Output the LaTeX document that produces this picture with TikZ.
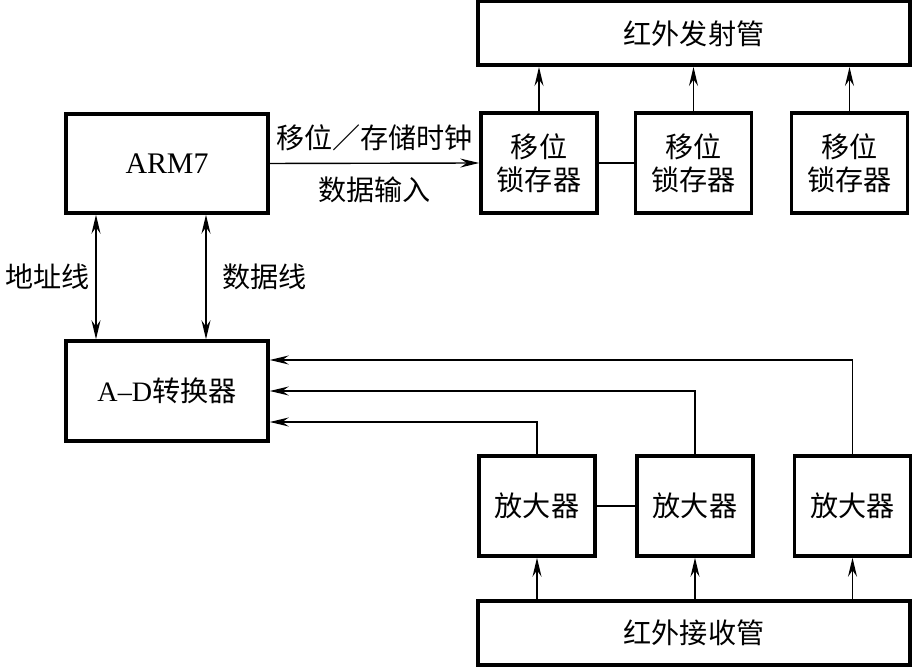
\documentclass[tikz,border=0pt]{standalone}
\usepackage{fontspec}
\setmainfont{Liberation Serif}
\newfontfamily\cjk{Noto Sans CJK SC}
\usepackage{tikz}
\usetikzlibrary{arrows.meta,positioning,calc}
\tikzstyle{arrow} = [line width=0.8pt,-{Stealth[length=3.8mm,width=1.8mm,inset=1.3mm]}]
\tikzstyle{biarrow} = [line width=0.8pt,{Stealth[length=3.8mm,width=1.8mm,inset=1.3mm]}-{Stealth[length=3.8mm,width=1.8mm,inset=1.3mm]}]
\tikzstyle{link} = [line width=0.8pt]
\tikzstyle{blockbox} = [rectangle, draw=black, line width=2pt, text centered, align=center, font=\fontsize{16}{18.5}\selectfont\cjk]
\tikzstyle{smallbox} = [blockbox, minimum width=2.32cm, minimum height=2cm]
\tikzstyle{widebox} = [blockbox, minimum width=8.64cm, minimum height=1.27cm]
\tikzstyle{lbl} = [font=\fontsize{16}{18.5}\selectfont\cjk]

\begin{document}
\begin{tikzpicture}
\useasboundingbox (0,0) rectangle (18.3,13.34);

% ARM7 and A-D
\node[blockbox, minimum width=4.04cm, minimum height=1.98cm, font=\fontsize{17}{20}\selectfont\rmfamily] (arm) at (3.34, 10.07) {ARM7};
\node[blockbox, minimum width=4.04cm, minimum height=2cm] (ad) at (3.34, 5.52) {{\rmfamily A--D}转换器};

% emitter side
\node[widebox] (emit) at (13.88, 12.67) {红外发射管};
\node[smallbox] (latch1) at (10.78, 10.08) {移位\\锁存器};
\node[smallbox] (latch2) at (13.87, 10.08) {移位\\锁存器};
\node[smallbox] (latch3) at (16.99, 10.08) {移位\\锁存器};

% receiver side
\node[widebox] (recv) at (13.88, 0.68) {红外接收管};
\node[smallbox] (amp1) at (10.74, 3.22) {放大器};
\node[smallbox] (amp2) at (13.90, 3.22) {放大器};
\node[smallbox] (amp3) at (17.05, 3.22) {放大器};

% ARM7 to latches
\draw[arrow] (arm.east) -- node[lbl, above=0.12cm] {移位／存储时钟} node[lbl, below=0.14cm] {数据输入} (latch1.west);
\draw[link] (latch1) -- (latch2);
\foreach \n in {latch1,latch2,latch3}
  \draw[arrow] (\n.north) -- (\n.north |- emit.south);

% ARM7 <-> A-D
\draw[biarrow] ([xshift=-1.42cm]arm.south) -- node[lbl, left=0pt] {地址线} ([xshift=-1.42cm]ad.north);
\draw[biarrow] ([xshift=0.78cm]arm.south) -- node[lbl, right=0.2cm] {数据线} ([xshift=0.78cm]ad.north);

% amplifiers
\draw[link] (amp1) -- (amp2);
\foreach \n in {amp1,amp2,amp3}
  \draw[arrow] (\n.south |- recv.north) -- (\n.south);
\draw[arrow] (amp1.north) |- ([yshift=-0.62cm]ad.east);
\draw[arrow] (amp2.north) |- (ad.east);
\draw[arrow] (amp3.north) |- ([yshift=0.62cm]ad.east);
\end{tikzpicture}
\end{document}
